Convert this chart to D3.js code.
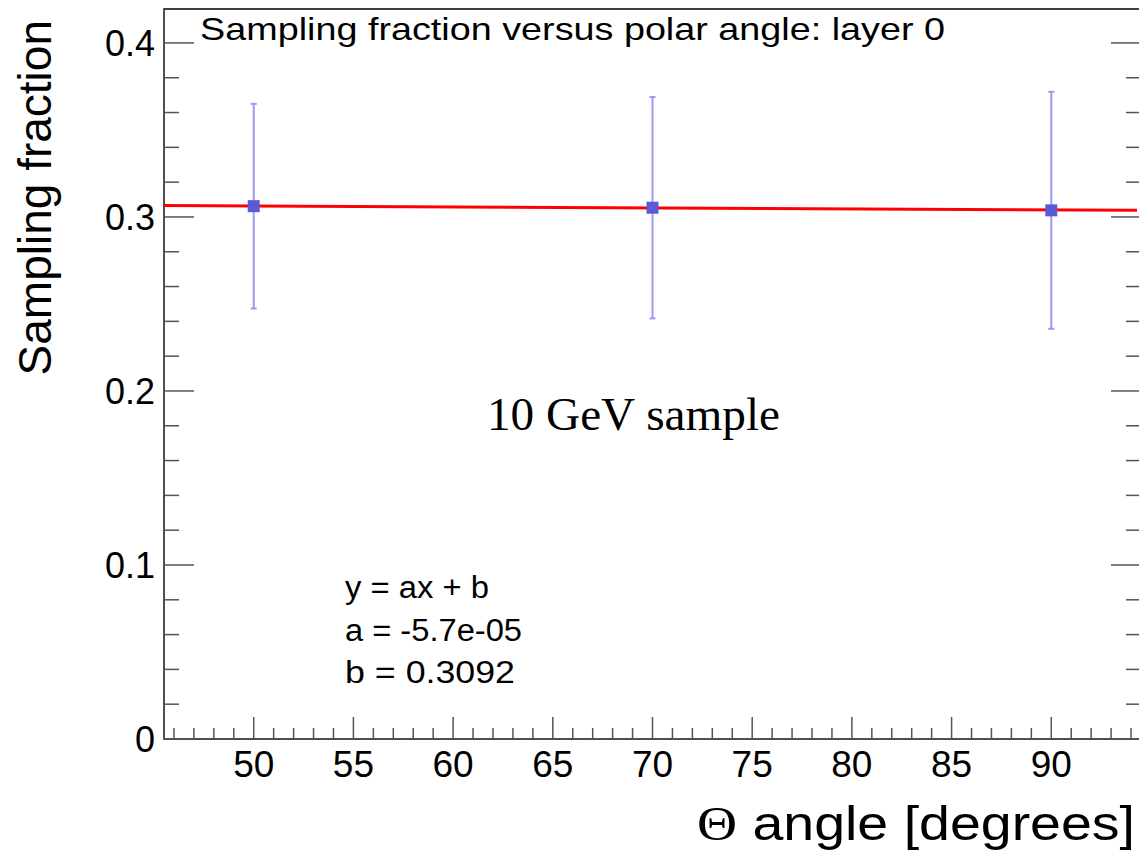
<!DOCTYPE html>
<html lang="en">
<head>
    <meta charset="UTF-8">
    <title>Sampling fraction versus polar angle</title>
    <script src="https://d3js.org/d3.v7.min.js"></script>
    <style>
        body { margin: 0; background: #fff; }
    </style>
</head>
<body>
    <script>
        var w = 1139;
        var h = 861;
        var sans = "'Liberation Sans', Arial, Helvetica, sans-serif";
        var serif = "'Liberation Serif', 'Times New Roman', serif";

        // data
        var angles = [50, 70, 90];
        var fractions = [0.3062, 0.3053, 0.3038];
        var errors = [0.0588, 0.0636, 0.0681];

        // linear fit shown in the stats box
        var fitA = -5.7e-05;
        var fitB = 0.3092;
        var fitRange = [45.5, 94.5];

        var xMajorTicks = [50, 55, 60, 65, 70, 75, 80, 85, 90];
        var yMajorTicks = [0, 0.1, 0.2, 0.3, 0.4];
        var statsLines = ["y = ax + b", "a = -5.7e-05", "b = 0.3092"];

        var frameL = 164, frameR = 1141, frameT = 9, frameB = 739;

        var xScale = d3.scaleLinear()
                .domain([45.5, 94.5])
                .range([frameL, frameR]);

        var yScale = d3.scaleLinear()
                .domain([0, 0.4195])
                .range([frameB, frameT]);

        var svg = d3.select("body")
                .append("svg")
                .attr("width", w)
                .attr("height", h)
                .style("font-family", sans);

        // frame
        svg.append("rect")
            .attr("x", frameL)
            .attr("y", frameT)
            .attr("width", frameR - frameL)
            .attr("height", frameB - frameT)
            .attr("fill", "none")
            .attr("stroke", "#000")
            .attr("stroke-width", 1.5);

        var axisColor = "#555";

        // x ticks (bottom only)
        var xMinor = d3.range(46, 95, 1);
        svg.selectAll(".xtick")
            .data(xMinor)
            .enter()
            .append("line")
            .attr("x1", function(d) { return xScale(d); })
            .attr("x2", function(d) { return xScale(d); })
            .attr("y1", frameB)
            .attr("y2", function(d) { return frameB - (d % 5 === 0 ? 22 : 11); })
            .attr("stroke", axisColor)
            .attr("stroke-width", 1.5);

        // y ticks, left and right
        var yMinor = d3.range(0, 21).map(function(i) { return i * 0.02; });
        [frameL, frameR].forEach(function(edge) {
            var dir = edge === frameL ? 1 : -1;
            svg.selectAll(null)
                .data(yMinor)
                .enter()
                .append("line")
                .attr("x1", edge)
                .attr("x2", function(d, i) { return edge + dir * (i % 5 === 0 ? 30 : 15); })
                .attr("y1", function(d) { return yScale(d); })
                .attr("y2", function(d) { return yScale(d); })
                .attr("stroke", axisColor)
                .attr("stroke-width", 1.5);
        });

        // axis lines
        svg.append("line")
            .attr("x1", frameL).attr("x2", frameR)
            .attr("y1", frameB).attr("y2", frameB)
            .attr("stroke", axisColor).attr("stroke-width", 1.5);
        svg.append("line")
            .attr("x1", frameL).attr("x2", frameL)
            .attr("y1", frameT).attr("y2", frameB)
            .attr("stroke", axisColor).attr("stroke-width", 1.5);

        // tick labels
        svg.selectAll(".xlabel")
            .data(xMajorTicks)
            .enter()
            .append("text")
            .text(function(d) { return d; })
            .attr("x", function(d) { return xScale(d); })
            .attr("y", 777)
            .attr("text-anchor", "middle")
            .attr("font-size", "37px");

        svg.selectAll(".ylabel")
            .data(yMajorTicks)
            .enter()
            .append("text")
            .text(function(d) { return d === 0 ? "0" : d.toFixed(1); })
            .attr("x", 155)
            .attr("y", function(d) { return yScale(d) + 13; })
            .attr("text-anchor", "end")
            .attr("font-size", "36px");

        // axis titles
        var xTitle = svg.append("text")
            .attr("x", 1135)
            .attr("y", 840)
            .attr("text-anchor", "end")
            .attr("font-size", "48px")
            .attr("textLength", 438)
            .attr("lengthAdjust", "spacingAndGlyphs");
        xTitle.append("tspan").style("font-family", serif).text("\u0398");
        xTitle.append("tspan").text(" angle [degrees]");

        svg.append("text")
            .text("Sampling fraction")
            .attr("transform", "translate(51,20) rotate(-90)")
            .attr("text-anchor", "end")
            .attr("font-size", "46px");

        // fit line
        svg.append("line")
            .attr("x1", xScale(fitRange[0]))
            .attr("x2", xScale(fitRange[1]) - 4)
            .attr("y1", yScale(fitA * fitRange[0] + fitB))
            .attr("y2", yScale(fitA * fitRange[1] + fitB))
            .attr("stroke", "#ff0000")
            .attr("stroke-width", 3);

        // error bars
        var errColor = "#9a9af0";
        svg.selectAll(".err")
            .data(angles)
            .enter()
            .append("line")
            .attr("x1", function(d) { return xScale(d); })
            .attr("x2", function(d) { return xScale(d); })
            .attr("y1", function(d, i) { return yScale(fractions[i] + errors[i]); })
            .attr("y2", function(d, i) { return yScale(fractions[i] - errors[i]); })
            .attr("stroke", errColor)
            .attr("stroke-width", 2);

        [1, -1].forEach(function(s) {
            svg.selectAll(null)
                .data(angles)
                .enter()
                .append("line")
                .attr("x1", function(d) { return xScale(d) - 3; })
                .attr("x2", function(d) { return xScale(d) + 3; })
                .attr("y1", function(d, i) { return yScale(fractions[i] + s * errors[i]); })
                .attr("y2", function(d, i) { return yScale(fractions[i] + s * errors[i]); })
                .attr("stroke", errColor)
                .attr("stroke-width", 2);
        });

        // markers
        svg.selectAll(".pt")
            .data(angles)
            .enter()
            .append("rect")
            .attr("x", function(d) { return xScale(d) - 6; })
            .attr("y", function(d, i) { return yScale(fractions[i]) - 6; })
            .attr("width", 12)
            .attr("height", 12)
            .attr("fill", "#5a5ad8");

        // title
        svg.append("text")
            .text("Sampling fraction versus polar angle: layer 0")
            .attr("x", 200)
            .attr("y", 40)
            .attr("font-size", "32px")
            .attr("textLength", 745)
            .attr("lengthAdjust", "spacingAndGlyphs");

        // sample label
        svg.append("text")
            .text("10 GeV sample")
            .attr("x", 487)
            .attr("y", 430)
            .style("font-family", serif)
            .attr("font-size", "47px")
            .attr("textLength", 293)
            .attr("lengthAdjust", "spacingAndGlyphs");

        // fit stats
        var statsWidths = [144, 177, 170];
        svg.selectAll(".stat")
            .data(statsLines)
            .enter()
            .append("text")
            .text(function(d) { return d; })
            .attr("x", 345)
            .attr("y", function(d, i) { return 598 + i * 42.5; })
            .attr("font-size", "31px")
            .attr("textLength", function(d, i) { return statsWidths[i]; })
            .attr("lengthAdjust", "spacingAndGlyphs");
    </script>
</body>
</html>
